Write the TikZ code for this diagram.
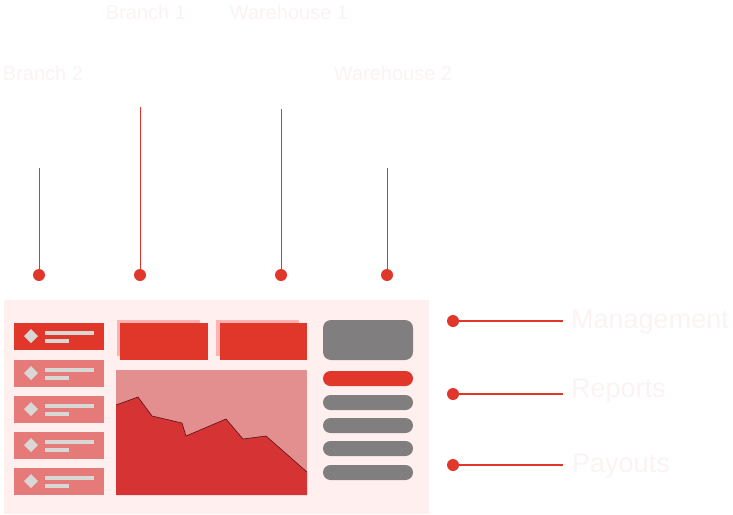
\documentclass[tikz,border=0pt]{standalone}
\usepackage{fontspec}
\setmainfont{Liberation Sans}
\definecolor{mainred}{HTML}{E1372A}
\definecolor{softred}{HTML}{E57A78}
\definecolor{paleback}{HTML}{FFF0EF}
\definecolor{shadowred}{HTML}{FFB3B0}
\definecolor{chartback}{HTML}{E38E8F}
\definecolor{chartfill}{HTML}{D63335}
\definecolor{panelgray}{HTML}{807E7F}
\definecolor{lightgray}{HTML}{D9D6D6}
\definecolor{labelwhite}{HTML}{FBF3F3}
\tikzset{
  pin/.style={circle, fill=mainred, inner sep=0pt, minimum size=12pt},
  label/.style={text=labelwhite, font=\fontsize{20}{20}\selectfont, inner sep=0pt},
  biglabel/.style={label, font=\fontsize{27}{27}\selectfont, anchor=west},
  pill/.style={fill=panelgray, rounded corners=7.5pt}
}
\begin{document}
\begin{tikzpicture}[x=1pt, y=-1pt]
\useasboundingbox (0,0) rectangle (733,514);
% Dashboard panel
\fill[paleback] (4,300) rectangle (429,514);

% Menu items on the left
\foreach \y [count=\i] in {323,360,396,432,468} {
  \ifnum\i=1 \def\itemcol{mainred}\else\def\itemcol{softred}\fi
  \fill[\itemcol] (14,\y) rectangle (104,\y+27);
  \fill[lightgray] (31,\y+6) -- (38,\y+13) -- (31,\y+20) -- (24,\y+13) -- cycle;
  \fill[lightgray] (45,\y+8) rectangle (94,\y+12);
  \fill[lightgray] (45,\y+16) rectangle (69,\y+20);
}

% Top boxes
\fill[shadowred] (117,320) rectangle (200,356);
\fill[mainred] (120,323) rectangle (208,360);
\fill[shadowred] (216,320) rectangle (299,356);
\fill[mainred] (220,323) rectangle (307,360);

% Chart
\fill[chartback] (116,370) rectangle (307,495);
\fill[chartfill] (116,405) -- (138,397) -- (152,416) -- (182,423) -- (186,436)
  -- (226,419) -- (243,439) -- (266,436) -- (307,472) -- (307,495) -- (116,495) -- cycle;
\draw[black!60!chartfill, line width=0.6pt] (116,405) -- (138,397) -- (152,416) -- (182,423)
  -- (186,436) -- (226,419) -- (243,439) -- (266,436) -- (307,472);

% Right column
\fill[panelgray, rounded corners=8pt] (323,320) rectangle (413,360);
\fill[mainred, rounded corners=7.5pt] (323,371) rectangle (413,386);
\foreach \y in {395,418,441,465}
  \fill[pill] (323,\y) rectangle (413,\y+15);

% Pins above the panel
\node[pin] (p1) at (39,275) {};
\node[pin] (p2) at (140,275) {};
\node[pin] (p3) at (281,275) {};
\node[pin] (p4) at (387,275) {};
\coordinate (t1) at (39,168);
\coordinate (t2) at (140,107);
\coordinate (t3) at (281,109);
\coordinate (t4) at (387,168);
\draw[mainred] (p1) -- (t1);
\draw[mainred] (p2) -- (t2);
\draw[mainred] (p3) -- (t3);
\draw[mainred] (p4) -- (t4);
\node[label] (b2) at (43,73) {Branch 2};
\node[label] (b1) at (146,12) {Branch 1};
\node[label] (w1) at (289,12) {Warehouse 1};
\node[label] (w2) at (393,73) {Warehouse 2};

% Pins on the right
\node[pin] (r1) at (453,321) {};
\node[pin] (r2) at (453,394) {};
\node[pin] (r3) at (453,465) {};
\coordinate (e1) at (563,321);
\coordinate (e2) at (563,394);
\coordinate (e3) at (563,465);
\draw[mainred, line width=1.2pt] (r1) -- (e1);
\draw[mainred, line width=1.2pt] (r2) -- (e2);
\draw[mainred, line width=1.2pt] (r3) -- (e3);
\node[biglabel] (m) at (571,322) {Management};
\node[biglabel] (r) at (571,391) {Reports};
\node[biglabel] (pay) at (572,466) {Payouts};
\end{tikzpicture}
\end{document}
